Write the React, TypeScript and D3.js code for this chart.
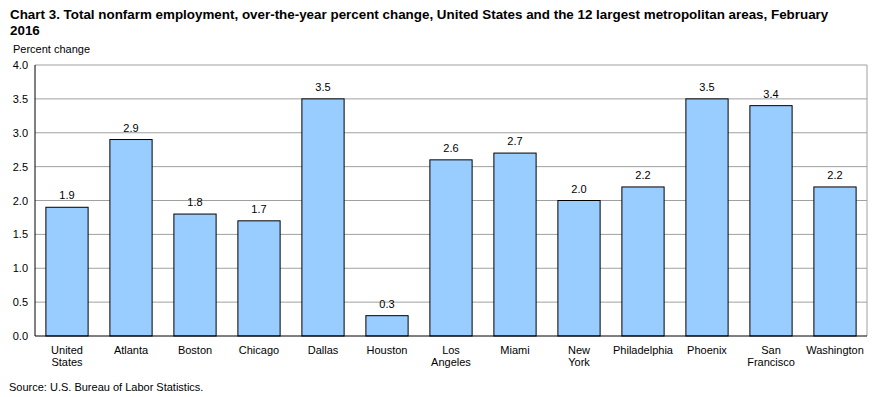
import React from "react";
import * as d3 from "d3";

const categories: string[][] = [
  ["United", "States"], ["Atlanta"], ["Boston"], ["Chicago"], ["Dallas"], ["Houston"],
  ["Los", "Angeles"], ["Miami"], ["New", "York"], ["Philadelphia"], ["Phoenix"],
  ["San", "Francisco"], ["Washington"],
];
const values: number[] = [1.9, 2.9, 1.8, 1.7, 3.5, 0.3, 2.6, 2.7, 2.0, 2.2, 3.5, 3.4, 2.2];
const yTicks: number[] = [0, 0.5, 1, 1.5, 2, 2.5, 3, 3.5, 4];

const titleLine1 =
  "Chart 3. Total nonfarm employment, over-the-year percent change, United States and the 12 largest metropolitan areas, February";
const titleLine2 = "2016";

export default function App() {
  const W = 891, H = 397;
  const left = 35, right = 867, top = 65, bottom = 336;
  const ids = categories.map((_, i) => String(i));
  const x = d3.scaleBand<string>().domain(ids).range([left, right]).paddingInner(0.34).paddingOuter(0.17);
  const y = d3.scaleLinear().domain([0, 4]).range([bottom, top]);
  const font = "Arial, 'Liberation Sans', sans-serif";
  return (
    <svg width={W} height={H} style={{ position: "absolute", left: 0, top: 0, background: "#fff" }} fontFamily={font}>
      <text x={10} y={19} fontSize={13.4} fontWeight="bold" fill="#000">{titleLine1}</text>
      <text x={10} y={35} fontSize={13.4} fontWeight="bold" fill="#000">{titleLine2}</text>
      <text x={13} y={53} fontSize={11} fill="#000">Percent change</text>
      {yTicks.map((t) => (
        <g key={t}>
          {t > 0 && <line x1={left} x2={right} y1={y(t)} y2={y(t)} stroke="#a0a0a0" strokeWidth={1} />}
          <text x={28} y={y(t) + 4} fontSize={11} textAnchor="end" fill="#000">{t.toFixed(1)}</text>
        </g>
      ))}
      <line x1={right} x2={right} y1={top} y2={bottom} stroke="#a0a0a0" strokeWidth={1} />
      {values.map((v, i) => (
        <g key={i}>
          <rect x={x(ids[i])!} y={y(v)} width={x.bandwidth()} height={bottom - y(v)} fill="#99ccff" stroke="#000" strokeWidth={1} />
          <text x={x(ids[i])! + x.bandwidth() / 2} y={y(v) - 8} fontSize={11} textAnchor="middle" fill="#000">{v.toFixed(1)}</text>
          {categories[i].map((ln, j) => (
            <text key={j} x={x(ids[i])! + x.bandwidth() / 2} y={354 + j * 12} fontSize={11} textAnchor="middle" fill="#000">{ln}</text>
          ))}
        </g>
      ))}
      <line x1={left} x2={left} y1={top} y2={bottom} stroke="#000" strokeWidth={1} />
      <line x1={left} x2={right} y1={bottom} y2={bottom} stroke="#000" strokeWidth={1} />
      <text x={9} y={391} fontSize={11} fill="#000">Source: U.S. Bureau of Labor Statistics.</text>
    </svg>
  );
}
